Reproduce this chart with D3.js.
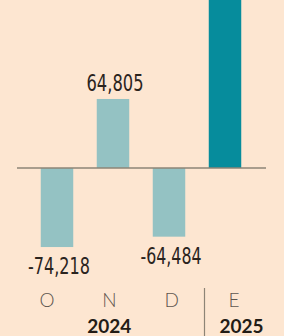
<!DOCTYPE html>
<html>
<head>
  <meta charset="utf-8">
  <title>Empleo mensual</title>
  <style>
  body{ margin:0; background:#fde6d1; }
  svg{ display:block; }
  </style>
</head>
<body>
  <svg width="284" height="336"></svg>
  <script src="https://d3js.org/d3.v7.min.js"></script>
  <script>
    // monthly values, E goes off the top of the picture
    var months = ["O", "N", "D", "E"];
    var values = [-74218, 64805, -64484, 190000];
    var valueLabels = ["-74,218", "64,805", "-64,484", ""];
    var years = ["2024", "2025"];

    var svg = d3.select("svg");

    var x = d3.scaleBand().domain(months).range([29, 253])
      .paddingInner(0.42).paddingOuter(0.21);
    var y = d3.scaleLinear().domain([-100000, 100000]).range([274.5, 61.5]);
    var labelX = d3.scalePoint().domain(months).range([47, 234]);

    var fill = d3.scaleOrdinal().domain(["old", "new"]).range(["#94c2c3", "#068c9c"]);

    svg.selectAll("rect.bar")
      .data(values)
      .enter()
      .append("rect")
      .attr("class", "bar")
      .attr("x", (d, i) => x(months[i]))
      .attr("width", x.bandwidth())
      .attr("y", d => y(Math.max(0, d)))
      .attr("height", d => Math.abs(y(d) - y(0)))
      .attr("fill", (d, i) => fill(i < 3 ? "old" : "new"));

    // zero line
    svg.append("line")
      .attr("x1", 17).attr("x2", 266)
      .attr("y1", y(0)).attr("y2", y(0))
      .attr("stroke", "#8d8476")
      .attr("stroke-width", 1.5);

    // value labels
    var widths = [62, 57, 61, 0];
    svg.selectAll("text.val")
      .data(values)
      .enter()
      .append("text")
      .attr("class", "val")
      .filter((d, i) => valueLabels[i] !== "")
      .attr("x", (d, i) => x(months[i]) + x.bandwidth() / 2 + 2)
      .attr("y", d => d > 0 ? y(d) - 8 : y(d) + 27)
      .attr("text-anchor", "middle")
      .attr("textLength", (d, i) => widths[i])
      .attr("lengthAdjust", "spacingAndGlyphs")
      .style("font-family", "'DejaVu Sans Condensed', 'DejaVu Sans', sans-serif")
      .style("font-size", "23px")
      .style("fill", "#2b241e")
      .text((d, i) => valueLabels[i]);

    // month labels
    svg.selectAll("text.month")
      .data(months)
      .enter()
      .append("text")
      .attr("class", "month")
      .attr("x", d => labelX(d))
      .attr("y", 307)
      .attr("text-anchor", "middle")
      .style("font-family", "Lato, sans-serif")
      .style("font-weight", 300)
      .style("font-size", "19px")
      .style("fill", "#5f574f")
      .text(d => d);

    // year separator
    svg.append("line")
      .attr("x1", 204.5).attr("x2", 204.5)
      .attr("y1", 288).attr("y2", 336)
      .attr("stroke", "#8d8476")
      .attr("stroke-width", 1.2);

    // years
    svg.selectAll("text.year")
      .data(years)
      .enter()
      .append("text")
      .attr("class", "year")
      .attr("x", (d, i) => i === 0 ? labelX("N") : 241.5)
      .attr("y", 333)
      .attr("text-anchor", "middle")
      .style("font-family", "Lato, sans-serif")
      .style("font-weight", 700)
      .style("font-size", "19px")
      .style("fill", "#231c16")
      .text(d => d);
  </script>
</body>
</html>
